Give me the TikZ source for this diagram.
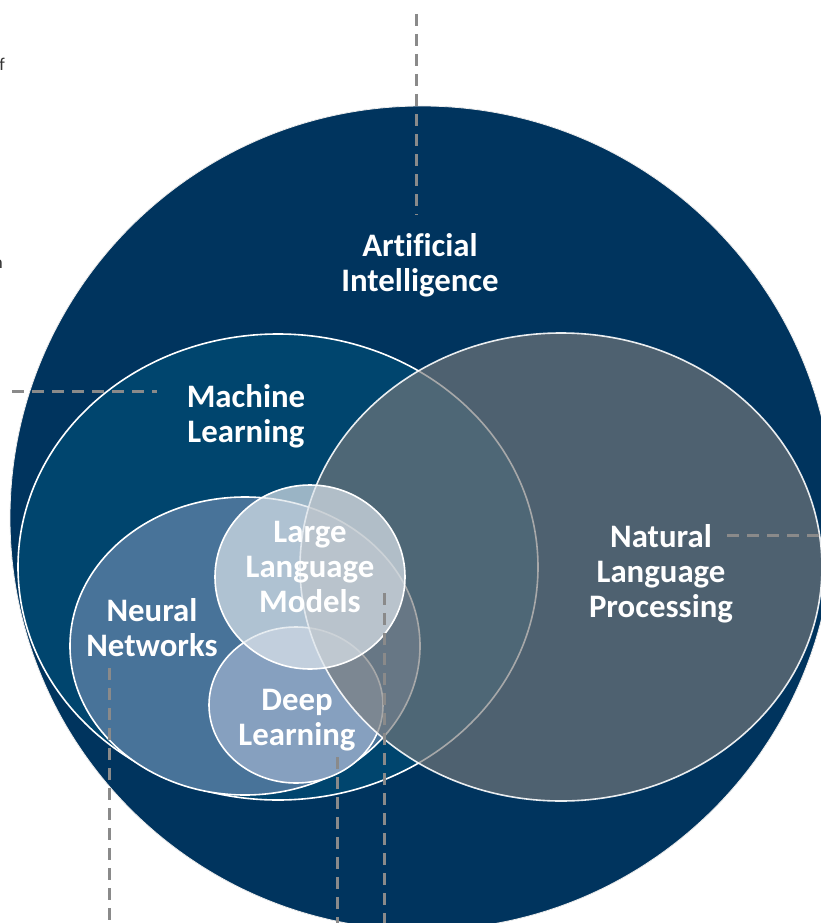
\documentclass[tikz,border=0pt]{standalone}
\usepackage{fontspec}
\setmainfont{Carlito}[Ligatures=NoCommon]
\definecolor{aiblue}{HTML}{00345E}
\definecolor{mlblue}{HTML}{00456E}
\definecolor{nnblue}{HTML}{487399}
\definecolor{dlblue}{HTML}{86A0BF}
\definecolor{nlpgray}{HTML}{787A7B}
\definecolor{llmlight}{HTML}{DCE4EB}
\definecolor{leadergray}{HTML}{8A8A8A}
\definecolor{edgetext}{HTML}{333333}
\begin{document}
\begin{tikzpicture}[x=1pt,y=-1pt,
  region/.style={draw=white, line width=1.6pt},
  lbl/.style={text=white, font=\bfseries\fontsize{32.8}{35}\selectfont, align=center, inner sep=0pt},
  leader/.style={draw=leadergray, line width=3pt, dash pattern=on 12pt off 8pt},
  cuttext/.style={text=edgetext, font=\fontsize{18}{20}\selectfont, inner sep=0pt}]
\useasboundingbox (0,0) rectangle (821,923);
\clip (0,0) rectangle (821,923);
% Artificial Intelligence
\fill[aiblue, draw=white!85!gray, line width=0.8pt] (422,518) circle [radius=412];
% Machine Learning
\fill[mlblue, region] (278,567) ellipse [x radius=260, y radius=233];
% Neural Networks
\fill[nnblue, region] (245,646) ellipse [x radius=175, y radius=149];
% Deep Learning
\fill[dlblue, region] (296,705) ellipse [x radius=87, y radius=78];
% Natural Language Processing (semi-transparent)
\fill[nlpgray, fill opacity=0.65, draw=white, draw opacity=0.9, line width=1.6pt] (561,567) ellipse [x radius=261, y radius=234];
% Large Language Models (semi-transparent)
\fill[llmlight, fill opacity=0.7, draw=white, line width=1.6pt] (310,577) ellipse [x radius=95, y radius=92];

% labels
\node[lbl] (ai) at (420,265) {Artificial\\Intelligence};
\node[lbl] (ml) at (246,416) {Machine\\Learning};
\node[lbl] (nlp) at (661,574) {Natural\\Language\\Processing};
\node[lbl] (llm) at (310,567) {Large\\Language\\Models};
\node[lbl] (nn) at (152,628) {Neural\\Networks};
\node[lbl] (dl) at (297,720) {Deep\\Learning};

% cut-off text at the left edge
\node[cuttext, anchor=base east] (tf) at (5,71) {f};
\node[cuttext, anchor=base east] (tn) at (3,268) {n};

% leader lines
\coordinate (a1) at (416,14);  \coordinate (a2) at (416,215);
\coordinate (b1) at (12,391);  \coordinate (b2) at (157,391);
\coordinate (c1) at (727,535); \coordinate (c2) at (821,535);
\coordinate (d1) at (109,668); \coordinate (d2) at (109,923);
\coordinate (e1) at (337,757); \coordinate (e2) at (337,923);
\coordinate (f1) at (384,593); \coordinate (f2) at (384,923);
\draw[leader] (a1) -- (a2);
\draw[leader] (b1) -- (b2);
\draw[leader] (c1) -- (c2);
\draw[leader] (d1) -- (d2);
\draw[leader] (e1) -- (e2);
\draw[leader] (f1) -- (f2);
\end{tikzpicture}
\end{document}
